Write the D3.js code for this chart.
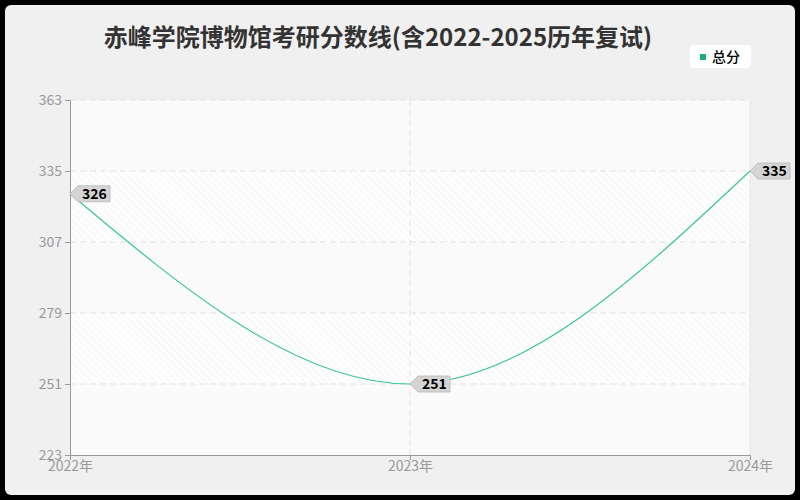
<!DOCTYPE html>
<html>
<head>
<meta charset="utf-8">
<script src="https://cdn.jsdelivr.net/npm/d3@7"></script>
<style>
  html, body { margin: 0; padding: 0; background: #000; }
  svg { display: block; font-family: "Noto Sans CJK SC", "Noto Sans", sans-serif; }
</style>
</head>
<body>
<div id="chart"></div>
<script>
var years = ["2022年", "2023年", "2024年"];
var totalScores = [326, 251, 335];
var yTicks = [223, 251, 279, 307, 335, 363];
var seriesName = "总分";
var titleText = "赤峰学院博物馆考研分数线(含2022-2025历年复试)";

var width = 800, height = 500;
var margin = { top: 100, right: 50, bottom: 45, left: 70 };
var lineColor = "#3cc49a";

var svg = d3.select("#chart")
    .append("svg")
    .attr("width", width)
    .attr("height", height);

// frame
svg.append("rect")
    .attr("x", 5).attr("y", 5)
    .attr("width", width - 10).attr("height", height - 10)
    .attr("rx", 6)
    .attr("fill", "#f0f0f0");

var defs = svg.append("defs");
var pat = defs.append("pattern")
    .attr("id", "hatch")
    .attr("patternUnits", "userSpaceOnUse")
    .attr("width", 5).attr("height", 5)
    .attr("patternTransform", "rotate(-45)");
pat.append("rect").attr("width", 5).attr("height", 5).attr("fill", "#fefefe");
pat.append("line")
    .attr("x1", 0).attr("y1", 0).attr("x2", 0).attr("y2", 5)
    .attr("stroke", "#f3f3f3").attr("stroke-width", 1.5);

var x = d3.scalePoint()
    .domain(years)
    .range([margin.left, width - margin.right]);

var y = d3.scaleLinear()
    .domain([223, 363])
    .range([height - margin.bottom, margin.top]);

// plot background bands
var bands = d3.pairs(yTicks);
svg.selectAll(".band")
    .data(bands)
    .enter()
    .append("rect")
    .attr("class", "band")
    .attr("x", margin.left)
    .attr("y", function(d) { return y(d[1]); })
    .attr("width", width - margin.right - margin.left)
    .attr("height", function(d) { return y(d[0]) - y(d[1]); })
    .attr("fill", function(d, i) { return i % 2 ? "url(#hatch)" : "#fafafa"; });

// grid lines
svg.selectAll(".hgrid")
    .data(yTicks.slice(1))
    .enter()
    .append("line")
    .attr("class", "hgrid")
    .attr("x1", margin.left).attr("x2", width - margin.right)
    .attr("y1", function(d) { return y(d); })
    .attr("y2", function(d) { return y(d); })
    .attr("stroke", "#e3e3e3")
    .attr("stroke-dasharray", "6,4");

svg.selectAll(".vgrid")
    .data(years.slice(1, -1))
    .enter()
    .append("line")
    .attr("class", "vgrid")
    .attr("x1", function(d) { return x(d); })
    .attr("x2", function(d) { return x(d); })
    .attr("y1", margin.top).attr("y2", height - margin.bottom)
    .attr("stroke", "#e3e3e3")
    .attr("stroke-dasharray", "6,4");

// right border of plot
svg.append("line")
    .attr("x1", width - margin.right).attr("x2", width - margin.right)
    .attr("y1", margin.top).attr("y2", height - margin.bottom)
    .attr("stroke", "#e6e6e6");

// axes
var yAxis = svg.append("g")
    .attr("transform", "translate(" + margin.left + ",0)")
    .call(d3.axisLeft(y).tickValues(yTicks).tickSize(5).tickPadding(3));
var xAxis = svg.append("g")
    .attr("transform", "translate(0," + (height - margin.bottom) + ")")
    .call(d3.axisBottom(x).tickSize(5).tickPadding(1));

[yAxis, xAxis].forEach(function(g) {
    g.select(".domain").attr("stroke", "#999");
    g.selectAll(".tick line").attr("stroke", "#999");
    g.selectAll(".tick text")
        .attr("fill", "#999")
        .style("font-size", "14px")
        .style("font-family", "'Noto Sans CJK SC', sans-serif");
});
yAxis.selectAll(".tick text").attr("dy", "0.35em");

// line
var points = years.map(function(yr, i) { return { year: yr, value: totalScores[i] }; });

var line = d3.line()
    .x(function(d) { return x(d.year); })
    .y(function(d) { return y(d.value); })
    .curve(d3.curveMonotoneX);

svg.append("path")
    .datum(points)
    .attr("d", line)
    .attr("fill", "none")
    .attr("stroke", lineColor)
    .attr("stroke-width", 1.2);

// value labels
var labels = svg.selectAll(".valLabel")
    .data(points)
    .enter()
    .append("g")
    .attr("class", "valLabel")
    .attr("transform", function(d) { return "translate(" + x(d.year) + "," + y(d.value) + ")"; });

labels.append("path")
    .attr("d", "M0,0 L8,-8 L40,-8 L40,8 L8,8 Z")
    .attr("fill", "#d4d4d4")
    .attr("stroke", "#b8b8b8")
    .attr("stroke-width", 0.8);

labels.append("text")
    .attr("x", 12)
    .attr("y", 0)
    .attr("dy", "0.36em")
    .attr("fill", "#000")
    .style("font-size", "14px")
    .style("font-weight", "bold")
    .style("font-family", "'Noto Sans CJK SC', sans-serif")
    .text(function(d) { return d.value; });

// title
svg.append("text")
    .attr("x", 378)
    .attr("y", 46)
    .attr("text-anchor", "middle")
    .attr("fill", "#333")
    .style("font-size", "24px")
    .style("font-weight", "bold")
    .text(titleText);

// legend
var legend = svg.append("g").attr("transform", "translate(690,45)");
legend.append("rect")
    .attr("width", 61).attr("height", 23)
    .attr("rx", 4)
    .attr("fill", "#fff");
legend.append("rect")
    .attr("x", 10).attr("y", 9)
    .attr("width", 6).attr("height", 6)
    .attr("fill", "#1aaf7a");
legend.append("text")
    .attr("x", 22).attr("y", 12)
    .attr("dy", "0.36em")
    .attr("fill", "#000")
    .style("font-size", "14px")
    .style("font-weight", "500")
    .text(seriesName);
</script>
</body>
</html>
